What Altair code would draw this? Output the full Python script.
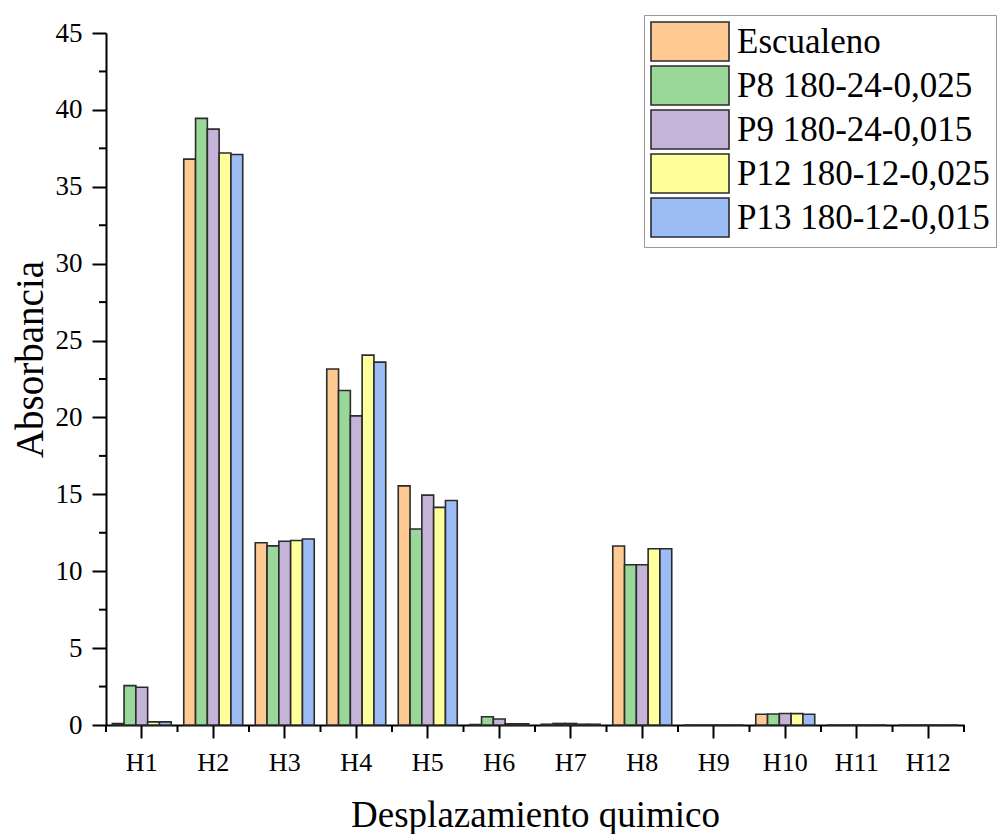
import altair as alt
import pandas as pd

categories = ["H1", "H2", "H3", "H4", "H5", "H6", "H7", "H8", "H9", "H10", "H11", "H12"]
series_names = ["Escualeno", "P8 180-24-0,025", "P9 180-24-0,015", "P12 180-12-0,025", "P13 180-12-0,015"]
escualeno = [0.1, 36.8, 11.85, 23.15, 15.55, 0.03, 0.05, 11.64, 0.0, 0.7, 0.0, 0.0]
p8 = [2.56, 39.45, 11.65, 21.75, 12.75, 0.54, 0.1, 10.42, 0.0, 0.72, 0.0, 0.0]
p9 = [2.45, 38.75, 11.95, 20.1, 14.95, 0.39, 0.1, 10.42, 0.0, 0.75, 0.0, 0.0]
p12 = [0.2, 37.2, 12.0, 24.05, 14.15, 0.08, 0.05, 11.46, 0.0, 0.74, 0.0, 0.0]
p13 = [0.2, 37.1, 12.1, 23.6, 14.6, 0.08, 0.05, 11.46, 0.0, 0.7, 0.0, 0.0]
colors = ["#FFC994", "#9AD89A", "#C5B3D8", "#FFFF9B", "#9BBCF5"]
y_major = [0, 5, 10, 15, 20, 25, 30, 35, 40, 45]
y_minor = [2.5, 7.5, 12.5, 17.5, 22.5, 27.5, 32.5, 37.5, 42.5]

rows = []
for name, vals in zip(series_names, [escualeno, p8, p9, p12, p13]):
    for c, v in zip(categories, vals):
        rows.append({"cat": c, "serie": name, "val": v})
df = pd.DataFrame(rows)
df_cat = pd.DataFrame({"cat": categories})
df_last = pd.DataFrame({"cat": categories[-1:]})
df_ymin = pd.DataFrame({"v": y_minor})

FONT = "Liberation Serif"
P_IN = 0.175
x_scale = alt.Scale(domain=categories, paddingInner=P_IN, paddingOuter=P_IN / 2)
x_plain = alt.Scale(domain=categories, paddingInner=0, paddingOuter=0)
y_scale = alt.Scale(domain=[0, 45], nice=False)

W, H = 858, 692

bars = alt.Chart(df).mark_bar(stroke="#2b2b2b", strokeWidth=1.6).encode(
    x=alt.X("cat:N", scale=x_scale, sort=categories,
            axis=alt.Axis(title="Desplazamiento quimico", labelAngle=0, tickSize=13, tickWidth=2,
                          domainWidth=2, domainColor="black", tickColor="black",
                          labelFont=FONT, labelFontSize=26, labelColor="black", labelPadding=11,
                          titleFont=FONT, titleFontSize=37, titleFontWeight="normal", titleColor="black",
                          titleY=101, titleBaseline="alphabetic")),
    xOffset=alt.XOffset("serie:N", sort=series_names, scale=alt.Scale(paddingInner=0, paddingOuter=0)),
    y=alt.Y("val:Q", scale=y_scale,
            axis=alt.Axis(title="Absorbancia", values=y_major, tickSize=14, tickWidth=2,
                          domainWidth=2, domainColor="black", tickColor="black", grid=False,
                          labelFont=FONT, labelFontSize=27, labelColor="black", labelPadding=10,
                          titleFont=FONT, titleFontSize=39, titleFontWeight="normal", titleColor="black",
                          titleX=-76, titleY=326, titleAngle=270, titleAlign="center",
                          titleBaseline="middle")),
    color=alt.Color("serie:N", sort=series_names,
                    scale=alt.Scale(domain=series_names, range=colors),
                    legend=alt.Legend(title=None, orient="none", legendX=538, legendY=-18,
                                      symbolType="M-1,-1L3,-1L3,1L-1,1Z", symbolSize=1521,
                                      symbolStrokeColor="#2b2b2b", symbolStrokeWidth=1.6,
                                      labelFont=FONT, labelFontSize=35, labelColor="black",
                                      labelLimit=0, labelOffset=46, rowPadding=-3, padding=6,
                                      strokeColor="#999999", fillColor="white")),
)

xminor = alt.Chart(df_cat).mark_rule(color="black", strokeWidth=2).encode(
    x=alt.X("cat:N", scale=x_plain, sort=categories, bandPosition=0, axis=None),
    y=alt.value(H), y2=alt.value(H + 7),
)
xminor_last = alt.Chart(df_last).mark_rule(color="black", strokeWidth=2).encode(
    x=alt.X("cat:N", scale=x_plain, sort=categories, bandPosition=1, axis=None),
    y=alt.value(H), y2=alt.value(H + 7),
)
yminor = alt.Chart(df_ymin).mark_rule(color="black", strokeWidth=2).encode(
    y=alt.Y("v:Q", scale=y_scale),
    x=alt.value(-7), x2=alt.value(0),
)

chart = alt.layer(bars, xminor, xminor_last, yminor).resolve_scale(x="independent").properties(
    width=W, height=H,
    autosize=alt.AutoSizeParams(type="none"),
    padding={"left": 106, "top": 33, "right": 39, "bottom": 109},
    background="white",
).configure_view(stroke=None)

chart.save("out.html", embed_options={"renderer": "svg", "actions": False})
